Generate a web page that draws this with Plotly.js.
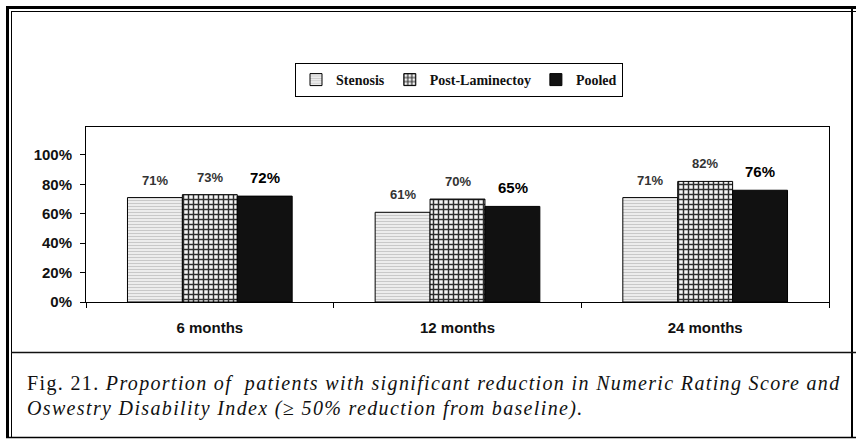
<!DOCTYPE html>
<html>
<head>
<meta charset="utf-8">
<script src="https://cdn.plot.ly/plotly-3.0.1.min.js"></script>
<style>
html,body{margin:0;padding:0;background:#fff;}
#chart{width:856px;height:439px;}
</style>
</head>
<body>
<div id="chart"></div>
<script>
// ---- data ----
const categories = ["6 months", "12 months", "24 months"];
const seriesNames = ["Stenosis", "Post-Laminectoy", "Pooled"];
const stenosis = [0.71, 0.61, 0.71];
const postLaminectomy = [0.73, 0.70, 0.82];
const pooled = [0.72, 0.65, 0.76];
const yTickVals = [0, 0.2, 0.4, 0.6, 0.8, 1.0];
const yTickText = ["0%", "20%", "40%", "60%", "80%", "100%"];
const captionLine1Lead = "Fig. 21. ";
const captionLine1 = "Proportion of  patients with significant reduction in Numeric Rating Score and";
const captionLine2 = "Oswestry Disability Index (\u2265 50% reduction from baseline).";

// ---- geometry (pixels) ----
const W = 856, H = 439;
const M = {l: 86, r: 27, t: 127, b: 137};
const PW = W - M.l - M.r, PH = H - M.t - M.b;
const px = x => (x - M.l) / PW;           // pixel -> paper x
const py = y => (H - M.b - y) / PH;       // pixel -> paper y

const barLine = {color: "#000", width: 1};
const traces = [
  {type: "bar", name: seriesNames[0], x: categories, y: stenosis,
   marker: {color: "#e4e4e4", line: barLine,
            pattern: {shape: "-", fgcolor: "#c8c8c8", bgcolor: "#ececec", size: 3, solidity: 0.35}}},
  {type: "bar", name: seriesNames[1], x: categories, y: postLaminectomy,
   marker: {color: "#777", line: barLine,
            pattern: {shape: "+", fgcolor: "#2e2e2e", bgcolor: "#f6f6f6", size: 5, solidity: 0.5}}},
  {type: "bar", name: seriesNames[2], x: categories, y: pooled,
   marker: {color: "#111", line: barLine}}
];

// bar label annotations
const barPx = 55;
const annotations = [];
const sets = [[stenosis, -barPx, 13, "#333"], [postLaminectomy, 0, 13, "#333"], [pooled, barPx, 15, "#000"]];
sets.forEach(([vals, shift, size, col]) => {
  vals.forEach((v, i) => {
    annotations.push({x: categories[i], y: v, xref: "x", yref: "y",
      text: "<b>" + Math.round(v * 100) + "%</b>", showarrow: false,
      xshift: shift, yshift: 8, yanchor: "bottom",
      font: {family: "Liberation Sans, Arial, sans-serif", size: size, color: col}});
  });
});
// caption
const capStyle = '<span style="letter-spacing:1.35px">';
annotations.push({xref: "paper", yref: "paper", x: px(25), y: py(383), xanchor: "left", yanchor: "middle",
  showarrow: false, text: capStyle + captionLine1Lead + "<i>" + captionLine1 + "</i></span>",
  font: {family: "Liberation Serif, Times New Roman, serif", size: 20, color: "#111"}});
annotations.push({xref: "paper", yref: "paper", x: px(25), y: py(408), xanchor: "left", yanchor: "middle",
  showarrow: false, text: capStyle + "<i>" + captionLine2 + "</i></span>",
  font: {family: "Liberation Serif, Times New Roman, serif", size: 20, color: "#111"}});

const shapes = [
  // outer double border: thick outer, thin inner
  {type: "line", xref: "paper", yref: "paper", x0: px(6), x1: px(856), y0: py(7.5), y1: py(7.5), line: {color: "#000", width: 3}},
  {type: "line", xref: "paper", yref: "paper", x0: px(11), x1: px(856), y0: py(11.5), y1: py(11.5), line: {color: "#000", width: 1}},
  {type: "line", xref: "paper", yref: "paper", x0: px(7.5), x1: px(7.5), y0: py(6), y1: py(438), line: {color: "#000", width: 3}},
  {type: "line", xref: "paper", yref: "paper", x0: px(11.5), x1: px(11.5), y0: py(11), y1: py(438), line: {color: "#000", width: 1}},
  {type: "line", xref: "paper", yref: "paper", x0: px(852), x1: px(852), y0: py(6), y1: py(438), line: {color: "#000", width: 2}},
  // bottom line
  {type: "line", xref: "paper", yref: "paper", x0: px(6), x1: px(856), y0: py(437.5), y1: py(437.5), line: {color: "#000", width: 1.5}},
  // divider between chart and caption
  {type: "line", xref: "paper", yref: "paper", x0: px(11), x1: px(856), y0: py(352.5), y1: py(352.5), line: {color: "#111", width: 1.5}}
];

const layout = {
  width: W, height: H,
  margin: M,
  paper_bgcolor: "#fff", plot_bgcolor: "#fff",
  barmode: "group", bargap: 0.335, bargroupgap: 0,
  showlegend: true,
  legend: {orientation: "h", x: px(459), xanchor: "center", y: py(63), yanchor: "top",
    bordercolor: "#000", borderwidth: 1, bgcolor: "#fff",
    font: {family: "Liberation Serif, Times New Roman, serif", size: 14, color: "#111", weight: "bold"},
    itemwidth: 30, tracegroupgap: 0},
  xaxis: {showgrid: false, zeroline: false, showline: true, linecolor: "#000", linewidth: 1, mirror: true,
    ticks: "outside", tickson: "boundaries", ticklen: 5, tickcolor: "#000",
    ticklabelstandoff: 12,
    tickfont: {family: "Liberation Sans, Arial, sans-serif", size: 15, color: "#111", weight: "bold"}},
  yaxis: {range: [0, 1.19], showgrid: false, zeroline: false, showline: true, linecolor: "#000", linewidth: 1, mirror: true,
    ticks: "outside", ticklen: 5, tickcolor: "#000", tickvals: yTickVals, ticktext: yTickText,
    ticklabelstandoff: 5,
    tickfont: {family: "Liberation Sans, Arial, sans-serif", size: 15, color: "#111", weight: "bold"}},
  annotations: annotations,
  shapes: shapes
};

Plotly.newPlot("chart", traces, layout, {displayModeBar: false, staticPlot: true});
</script>
</body>
</html>
